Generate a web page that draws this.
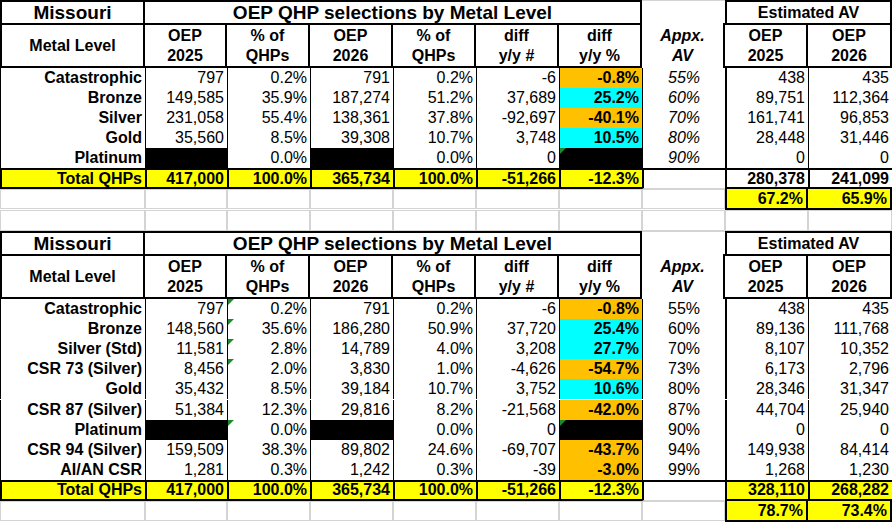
<!DOCTYPE html>
<html><head><meta charset="utf-8">
<script src="https://cdn.jsdelivr.net/npm/chart.js@4"></script>
<style>
body{margin:0;background:#fff;width:892px;height:522px;overflow:hidden;font-family:"Liberation Sans",Arial,sans-serif}
#sheet{position:relative;width:892px;height:522px}
.c{position:absolute;box-sizing:border-box;font-size:16px;line-height:1;display:flex;align-items:center;padding:0 3px;white-space:nowrap;color:#000}
.r{justify-content:flex-end}.m{justify-content:center;text-align:center}
.b{font-weight:bold}.i{font-style:italic}
.tri{position:absolute;left:0;top:0;width:0;height:0;border-top:6px solid #1a8a2a;border-right:6px solid transparent}
</style></head><body><div id="sheet"></div>
<script>
// column edges
var cols = [0, 145, 227, 310, 393, 476, 559, 642, 725, 808, 892];

// top table
var topLevels = ['Catastrophic', 'Bronze', 'Silver', 'Gold', 'Platinum'];
var topOep25 = ['797', '149,585', '231,058', '35,560', null];
var topPct25 = ['0.2%', '35.9%', '55.4%', '8.5%', '0.0%'];
var topOep26 = ['791', '187,274', '138,361', '39,308', null];
var topPct26 = ['0.2%', '51.2%', '37.8%', '10.7%', '0.0%'];
var topDiff = ['-6', '37,689', '-92,697', '3,748', '0'];
var topDiffPct = ['-0.8%', '25.2%', '-40.1%', '10.5%', null];
var topAV = ['55%', '60%', '70%', '80%', '90%'];
var topEst25 = ['438', '89,751', '161,741', '28,448', '0'];
var topEst26 = ['435', '112,364', '96,853', '31,446', '0'];
var topTotal = ['417,000', '100.0%', '365,734', '100.0%', '-51,266', '-12.3%', '', '280,378', '241,099'];
var topAvgAV = ['67.2%', '65.9%'];

// bottom table
var botLevels = ['Catastrophic', 'Bronze', 'Silver (Std)', 'CSR 73 (Silver)', 'Gold', 'CSR 87 (Silver)', 'Platinum', 'CSR 94 (Silver)', 'AI/AN CSR'];
var botOep25 = ['797', '148,560', '11,581', '8,456', '35,432', '51,384', null, '159,509', '1,281'];
var botPct25 = ['0.2%', '35.6%', '2.8%', '2.0%', '8.5%', '12.3%', '0.0%', '38.3%', '0.3%'];
var botOep26 = ['791', '186,280', '14,789', '3,830', '39,184', '29,816', null, '89,802', '1,242'];
var botPct26 = ['0.2%', '50.9%', '4.0%', '1.0%', '10.7%', '8.2%', '0.0%', '24.6%', '0.3%'];
var botDiff = ['-6', '37,720', '3,208', '-4,626', '3,752', '-21,568', '0', '-69,707', '-39'];
var botDiffPct = ['-0.8%', '25.4%', '27.7%', '-54.7%', '10.6%', '-42.0%', null, '-43.7%', '-3.0%'];
var botAV = ['55%', '60%', '70%', '73%', '80%', '87%', '90%', '94%', '99%'];
var botEst25 = ['438', '89,136', '8,107', '6,173', '28,346', '44,704', '0', '149,938', '1,268'];
var botEst26 = ['435', '111,768', '10,352', '2,796', '31,347', '25,940', '0', '84,414', '1,230'];
var botTotal = ['417,000', '100.0%', '365,734', '100.0%', '-51,266', '-12.3%', '', '328,110', '268,282'];
var botAvgAV = ['78.7%', '73.4%'];

var sheet = document.getElementById('sheet');
var YEL = '#ffff00', ORA = '#ffc000', CYA = '#00ffff';

function cell(c0, c1, y, h, text, cls, style) {
    var d = document.createElement('div');
    d.className = 'c ' + (cls || '');
    d.style.left = cols[c0] + 'px';
    d.style.width = (cols[c1] - cols[c0]) + 'px';
    d.style.top = y + 'px';
    d.style.height = h + 'px';
    if (style) Object.assign(d.style, style);
    if (text) d.innerHTML = text;
    sheet.appendChild(d);
    return d;
}
function mark(d) { var t = document.createElement('div'); t.className = 'tri'; d.appendChild(t); }

function gridLines(y, h) {
    for (var k = 0; k < cols.length - 1; k++)
        cell(k, k + 1, y, h, '', '', { border: '1px solid #d4d4d4' });
}

function drawTable(y0, rowH, d, italicAV, marks) {
    var full = '2px solid #000';
    var box = { border: full, margin: '0' };
    // title row
    cell(0, 1, y0, 25, 'Missouri', 'm b', Object.assign({ fontSize: '19px' }, box));
    cell(1, 7, y0, 25, 'OEP QHP selections by Metal Level', 'm b', { fontSize: '19px', border: full, marginLeft: '-2px', width: (cols[7] - cols[1] + 2) + 'px' });
    cell(7, 8, y0, 25, '', '', { borderTop: '1px solid #d4d4d4' });
    cell(8, 10, y0, 25, 'Estimated AV', 'm b', box);
    // header row
    var hy = y0 + 23, hh = 45;
    var heads = ['Metal Level', 'OEP<br>2025', '% of<br>QHPs', 'OEP<br>2026', '% of<br>QHPs', 'diff<br>y/y #', 'diff<br>y/y %', 'Appx.<br>AV', 'OEP<br>2025', 'OEP<br>2026'];
    heads.forEach(function(t, k) {
        var st = { border: full, lineHeight: '1.2' };
        if (k > 0) { st.marginLeft = '-2px'; st.width = (cols[k + 1] - cols[k] + 2) + 'px'; }
        if (k === 7) { st.border = 'none'; }
        cell(k, k + 1, hy, hh, t, 'm b' + (k === 7 ? ' i' : ''), st);
    });
    // data rows
    var y = hy + hh;
    var n = d.levels.length;
    for (var r = 0; r < n; r++) {
        var vals = [d.levels[r], d.o25[r], d.p25[r], d.o26[r], d.p26[r], d.diff[r], d.dpct[r], d.av[r], d.e25[r], d.e26[r]];
        vals.forEach(function(v, k) {
            var st = { borderLeft: '1.5px solid #000' };
            if (k === 7) st.borderLeft = '1.5px solid #000';
            if (k === 9) st.borderRight = 'none';
            if (k === 8) st.borderLeft = '2px solid #000';
            var cls = k === 0 ? 'r b' : (k === 7 ? 'm' + (italicAV ? ' i' : '') : 'r');
            if (k === 6 && v) { cls += ' b'; st.background = v.charAt(0) === '-' ? ORA : CYA; }
            if (v === null) st.background = '#000';
            var c = cell(k, k + 1, y, rowH, v, cls, st);
            if (marks.some(function(m) { return m[0] === r && m[1] === k; })) mark(c);
        });
        y += rowH;
    }
    // total row
    var tv = ['Total QHPs'].concat(d.total);
    tv.forEach(function(v, k) {
        var st = { borderTop: full, borderBottom: full, borderLeft: '2px solid #000' };
        if (k !== 7) st.background = YEL;
        if (k === 8 || k === 9) { if (!d.yellowEst) st.background = '#fff'; }
        if (k === 7) { st.borderBottom = '1px solid #d4d4d4'; }
        cell(k, k + 1, y, rowH + 1, v, (k === 7 ? 'm' : 'r') + ' b', st);
    });
    y += rowH + 1;
    // avg AV row
    gridLines(y, rowH);
    cell(8, 9, y, rowH + 1, d.avg[0], 'r b', { background: YEL, border: full, borderTop: 'none' });
    cell(9, 10, y, rowH + 1, d.avg[1], 'r b', { background: YEL, border: full, borderTop: 'none', borderLeft: 'none' });
    return y + rowH;
}

var yEnd = drawTable(0, 20, {
    levels: topLevels, o25: topOep25, p25: topPct25, o26: topOep26, p26: topPct26,
    diff: topDiff, dpct: topDiffPct, av: topAV, e25: topEst25, e26: topEst26,
    total: topTotal, avg: topAvgAV, yellowEst: false
}, true, [[4, 6]]);
gridLines(yEnd + 1, 21);

drawTable(231, 20.1, {
    levels: botLevels, o25: botOep25, p25: botPct25, o26: botOep26, p26: botPct26,
    diff: botDiff, dpct: botDiffPct, av: botAV, e25: botEst25, e26: botEst26,
    total: botTotal, avg: botAvgAV, yellowEst: true
}, false, [[0, 2], [1, 2], [2, 2], [3, 2], [6, 2], [6, 6]]);
</script></body></html>
